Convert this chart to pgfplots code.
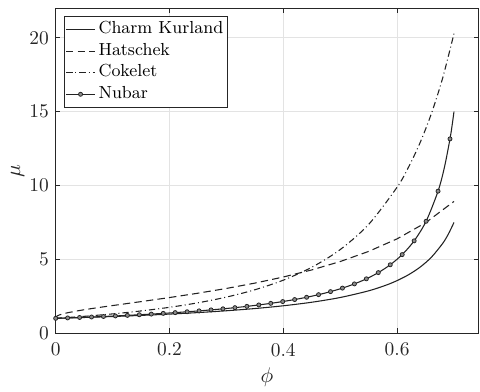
\documentclass[border=0pt]{standalone}
\usepackage{pgfplots}
\pgfplotsset{compat=1.18}
\definecolor{axc}{HTML}{262626}
\definecolor{gridc}{HTML}{E3E3E3}
\definecolor{lc}{HTML}{222222}
\begin{document}
\begin{tikzpicture}
\begin{axis}[
  scale only axis,
  width=217.9pt, height=167.4pt,
  xmin=0, xmax=0.743, ymin=0, ymax=22,
  xtick={0,0.2,0.4,0.6}, ytick={0,5,10,15,20},
  xticklabels={0,0.2,0.4,0.6},
  tick align=inside,
  major tick length=2.4pt,
  axis line style={axc, line width=0.5pt},
  tick style={axc, line width=0.5pt},
  every tick label/.append style={text=axc, font=\fontsize{10}{12}\selectfont},
  xticklabel style={yshift=-1.5pt},
  grid=major,
  major grid style={gridc, line width=0.5pt},
  xlabel={$\phi$}, ylabel={$\mu$},
  label style={font=\fontsize{11}{13}\selectfont, text=axc},
  xlabel style={at={(axis description cs:0.5,0)}, anchor=center, yshift=-22.7pt},
  ylabel style={at={(axis description cs:0,0.5)}, anchor=center, xshift=0pt, yshift=19.6pt},
  legend cell align=left,
  legend style={at={(axis description cs:0,1)}, anchor=north west, xshift=4.3pt, yshift=-4pt,
    font=\fontsize{9}{10}\selectfont, draw=axc, line width=0.5pt, fill=white,
    inner xsep=0.5pt, inner ysep=1.2pt, row sep=0pt,
    nodes={inner ysep=1.4pt, inner xsep=1.5pt, text height=6.3pt, text depth=2pt}},
  legend image code/.code={\draw[mark repeat=2,mark phase=2,#1] plot coordinates {(0pt,0pt) (7.5pt,0pt) (15pt,0pt)};},
]
\coordinate (ll) at (rel axis cs:0,0);
\coordinate (ur) at (rel axis cs:1,1);

% Charm Kurland
\addplot[lc, line width=0.55pt, smooth] coordinates {
(0,1) (0.05,1.0580) (0.10,1.1239) (0.15,1.1996) (0.20,1.2874) (0.25,1.3906)
(0.30,1.5139) (0.35,1.6640) (0.40,1.8508) (0.45,2.0910) (0.50,2.4116)
(0.55,2.8643) (0.58,3.2396) (0.60,3.5569) (0.62,3.9510) (0.64,4.4562)
(0.66,5.1272) (0.68,6.0691) (0.69,6.6998) (0.70,7.4955)};
\addlegendentry{Charm Kurland}

% Hatschek
\addplot[lc, line width=0.55pt, dash pattern=on 3.8pt off 2.2pt] coordinates {
(0,1) (0.001,1.1111) (0.003,1.1685) (0.006,1.2221) (0.01,1.2746) (0.02,1.3725)
(0.04,1.5198) (0.06,1.6433) (0.08,1.7572) (0.10,1.8664) (0.15,2.1336)
(0.20,2.4085) (0.25,2.7027) (0.30,3.0248) (0.35,3.3864) (0.40,3.7994)
(0.45,4.2790) (0.50,4.8473) (0.55,5.5340) (0.60,6.3857) (0.65,7.4738) (0.70,8.9206)};
\addlegendentry{Hatschek}

% Cokelet
\addplot[lc, line width=0.55pt, smooth, dash pattern=on 3.2pt off 1.6pt on 0.5pt off 1.6pt] coordinates {
(0,1) (0.05,1.1368) (0.10,1.3013) (0.15,1.5012) (0.20,1.7469) (0.25,2.0528)
(0.30,2.4392) (0.35,2.9357) (0.40,3.5861) (0.45,4.4578) (0.50,5.6569)
(0.55,7.3616) (0.60,9.8821) (0.62,11.234) (0.64,12.860) (0.66,14.837)
(0.68,17.264) (0.70,20.286)};
\addlegendentry{Cokelet}

% Nubar line
\addplot[lc, line width=0.55pt, smooth, forget plot] coordinates {
(0,1) (0.021,1.0288) (0.042,1.0593) (0.063,1.0917) (0.084,1.1261) (0.105,1.1628)
(0.126,1.2019) (0.147,1.2438) (0.168,1.2887) (0.189,1.3369) (0.210,1.3889)
(0.231,1.4451) (0.252,1.5060) (0.273,1.5723) (0.294,1.6447) (0.315,1.7241)
(0.336,1.8116) (0.357,1.9084) (0.378,2.0161) (0.399,2.1368) (0.420,2.2727)
(0.441,2.4272) (0.462,2.6042) (0.483,2.8090) (0.504,3.0488) (0.525,3.3333)
(0.546,3.6765) (0.567,4.0984) (0.588,4.6296) (0.609,5.3191) (0.630,6.2500)
(0.651,7.5758) (0.672,9.6154) (0.683,11.194) (0.693,13.158) (0.697,14.151) (0.700,15.0)};
% Nubar markers
\addplot[only marks, mark=*, mark size=1.05pt, mark options={fill=black!45, draw=lc, line width=0.4pt}, forget plot] coordinates {
(0,1) (0.021,1.0288) (0.042,1.0593) (0.063,1.0917) (0.084,1.1261) (0.105,1.1628)
(0.126,1.2019) (0.147,1.2438) (0.168,1.2887) (0.189,1.3369) (0.210,1.3889)
(0.231,1.4451) (0.252,1.5060) (0.273,1.5723) (0.294,1.6447) (0.315,1.7241)
(0.336,1.8116) (0.357,1.9084) (0.378,2.0161) (0.399,2.1368) (0.420,2.2727)
(0.441,2.4272) (0.462,2.6042) (0.483,2.8090) (0.504,3.0488) (0.525,3.3333)
(0.546,3.6765) (0.567,4.0984) (0.588,4.6296) (0.609,5.3191) (0.630,6.2500)
(0.651,7.5758) (0.672,9.6154) (0.693,13.158)};
\addlegendimage{lc, line width=0.55pt, mark=*, mark size=1.05pt, mark options={fill=black!45, draw=lc, line width=0.4pt}}
\addlegendentry{Nubar}
\end{axis}
\pgfresetboundingbox
\path[use as bounding box] ([xshift=-28.7pt,yshift=-29.9pt]ll) rectangle ([xshift=0.8pt,yshift=4.3pt]ur);
\end{tikzpicture}
\end{document}
